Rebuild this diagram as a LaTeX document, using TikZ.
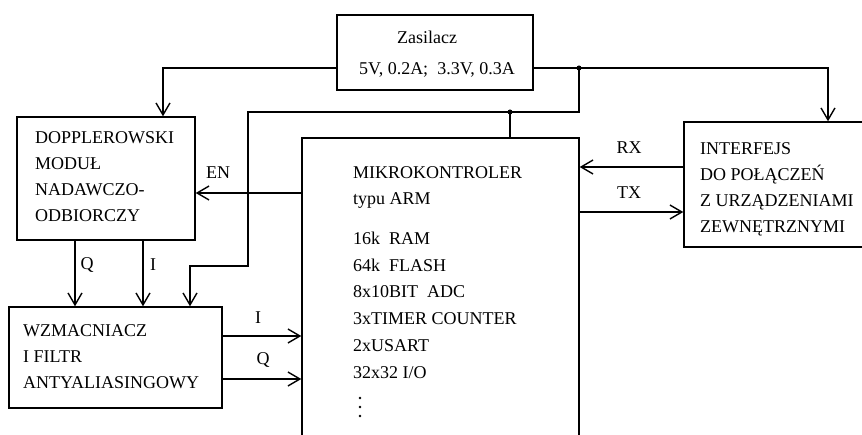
\documentclass[tikz,border=0pt]{standalone}
\usepackage{fontspec}
\setmainfont{Liberation Serif}
\usetikzlibrary{arrows.meta}
\begin{document}
\begin{tikzpicture}[x=1pt,y=-1pt,
  box/.style={draw,line width=1.4pt,inner sep=0pt,rectangle},
  txt/.style={font=\fontsize{18}{26}\selectfont,align=left,inner sep=0pt,anchor=north west},
  lbl/.style={font=\fontsize{18}{20}\selectfont,inner sep=0pt},
  arr/.style={line width=1.4pt,-{Straight Barb[length=12pt,width=14pt,line width=1.4pt]}},
  ln/.style={line width=1.4pt},
  jdot/.style={circle,fill,inner sep=0pt,minimum size=5pt}]
\useasboundingbox (0,0) rectangle (862,435);
\fill[white] (0,0) rectangle (862,435);
% boxes
\node[box,minimum width=196pt,minimum height=75pt] (zas) at (435,52.5) {};
\node[box,minimum width=178pt,minimum height=123pt] (dop) at (106,178.5) {};
\node[box,minimum width=213pt,minimum height=101pt] (wzm) at (115.5,357.5) {};
\node[box,minimum width=277pt,minimum height=307pt] (mik) at (440.5,291.5) {};
\node[box,minimum width=182pt,minimum height=125pt] (intf) at (775,184.5) {};
% texts
\node[lbl] (zt1) at (427,37) {Zasilacz};
\node[lbl] (zt2) at (437,70) {5V, 0.2A;\ \ 3.3V, 0.3A};
\node[txt] (dopt) at (35,131) {DOPPLEROWSKI\\MODUŁ\\NADAWCZO-\\ODBIORCZY};
\node[txt] (wzmt) at (23,324) {WZMACNIACZ\\I FILTR\\ANTYALIASINGOWY};
\node[txt] (intft) at (700,142) {INTERFEJS\\DO POŁĄCZEŃ\\Z URZĄDZENIAMI\\ZEWNĘTRZNYMI};
\node[txt,font=\fontsize{18}{26.7}\selectfont] (mikt) at (353,166) {MIKROKONTROLER\\typu ARM\\[13pt]16k\ \ RAM\\64k\ \ FLASH\\8x10BIT\ \ ADC\\3xTIMER COUNTER\\2xUSART\\32x32 I/O};
% vertical ellipsis (continuation of the list)
\foreach \yy in {398,407,416} \fill (360,\yy) circle[radius=1.3pt];
% labels
\node[lbl] (en) at (218,173) {EN};
\node[lbl] (rx) at (629,148) {RX};
\node[lbl] (tx) at (629,193) {TX};
\node[lbl] (q1) at (87,265) {Q};
\node[lbl] (i1) at (153,265) {I};
\node[lbl] (i2) at (258,318) {I};
\node[lbl] (q2) at (263,360) {Q};
% junctions
\node[jdot] (j1) at (579,68) {};
\node[jdot] (j2) at (510,112) {};
% connectors
\draw[arr] (zas.west |- 0,68) -| (dop.north -| 163,0);
\draw[arr] (zas.east |- 0,68) -| (intf.north -| 828,0);
\draw[arr] (j1.center) |- (248,112) |- (190,266) -- (wzm.north -| 190,0);
\draw[ln] (j2.center) -- (mik.north -| j2);
\draw[arr] (mik.west |- 0,193) -- (dop.east |- 0,193);
\draw[arr] (intf.west |- 0,167) -- (mik.east |- 0,167);
\draw[arr] (mik.east |- 0,212) -- (intf.west |- 0,212);
\draw[arr] (dop.south -| 75,0) -- (wzm.north -| 75,0);
\draw[arr] (dop.south -| 143,0) -- (wzm.north -| 143,0);
\draw[arr] (wzm.east |- 0,336) -- (mik.west |- 0,336);
\draw[arr] (wzm.east |- 0,379) -- (mik.west |- 0,379);
\end{tikzpicture}
\end{document}
